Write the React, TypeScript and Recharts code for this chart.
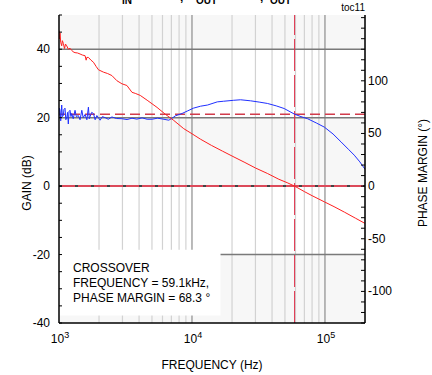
import {
	ComposedChart,
	Line,
	ReferenceArea,
	ReferenceLine,
	XAxis,
	YAxis,
} from "recharts";

// ゲイン（赤）: 周波数 Hz / dB
const gainFreq = [
	1000, 1010, 1017, 1030, 1048, 1060, 1078, 1100, 1120, 1143, 1175, 1210, 1247,
	1280, 1320, 1380, 1440, 1500, 1571, 1600, 1619, 1664, 1740, 1815, 1900, 1980,
	2160, 2320, 2500, 2725, 2972, 3240, 3540, 3745, 4085, 4600, 5460, 6300, 7290,
	8660, 10000, 11600, 14000, 17000, 20700, 25000, 30000, 36900, 45000, 52000,
	59100, 70000, 80000, 99000, 117000, 140000, 170000, 200000,
];
const gainDb = [
	45.5, 43, 44.8, 42, 41, 42.5, 41.7, 40.2, 41.5, 41, 40, 40.3, 39.7, 39.2, 39,
	38.9, 38.6, 38.3, 38.1, 36.8, 37.6, 37.6, 36.8, 36.2, 35, 34, 33.3, 32.9, 32.3,
	30.8, 29.9, 29.4, 27.4, 27.1, 26.5, 25.1, 23, 21, 19.2, 16.8, 15.3, 13.7, 11.9,
	10.2, 8.5, 6.9, 5.3, 3.7, 2, 1, 0, -1.6, -2.8, -4.6, -6, -7.6, -9.4, -10.9,
];

// 位相余裕（青）: 周波数 Hz / deg
const phaseFreq = [
	1000, 1008, 1017, 1030, 1048, 1060, 1078, 1090, 1110, 1125, 1143, 1160, 1175,
	1190, 1210, 1230, 1247, 1280, 1320, 1350, 1398, 1440, 1484, 1520, 1571, 1620,
	1664, 1690, 1714, 1760, 1815, 1870, 1926, 1980, 2038, 2120, 2224, 2350, 2500,
	2700, 2972, 3250, 3540, 3850, 4215, 4600, 5010, 5500, 5960, 6690, 7100, 7490,
	8430, 9300, 10240, 11600, 13100, 15500, 17300, 20600, 23200, 27600, 32000,
	36900, 43000, 49300, 59100, 66000, 74000, 86000, 99000, 115000, 132000,
	150000, 166000, 183000, 200000,
];
const phaseDeg = [
	66, 74, 72, 62, 77, 66, 67, 73, 74, 63, 64.5, 70, 59, 71, 72, 66, 69, 64, 72,
	66, 67, 63, 72, 65, 68, 63, 75, 64, 66, 70, 69, 63, 67, 65, 62.6, 66, 65, 63.5,
	65.7, 64.2, 64, 63.2, 64.5, 63.6, 64.8, 63.5, 63.5, 64.5, 63.8, 62.6, 64.5,
	66.7, 69, 71.5, 74, 75.9, 77, 80, 80.6, 81.5, 82, 81, 79.8, 78.5, 76.2, 73.7,
	68.3, 66, 64, 60, 56, 49.5, 42, 35, 29.4, 23, 16,
];

const xTicks = [1000, 10000, 100000];
const minorFreq = [2, 3, 4, 5, 6, 7, 8, 9].flatMap((m) => [
	m * 1000,
	m * 10000,
	...(m < 3 ? [m * 100000] : []),
]);
const gainTicks = [
	-40, -35, -30, -25, -20, -15, -10, -5, 0, 5, 10, 15, 20, 25, 30, 35, 40, 45,
	50,
];
const gainLabels = [-40, -20, 0, 20, 40];
const phaseTicks = [
	-130, -120, -110, -100, -90, -80, -70, -60, -50, -40, -30, -20, -10, 0, 10,
	20, 30, 40, 50, 60, 70, 80, 90, 100, 110, 120, 130, 140, 150, 160,
];
const phaseLabels = [-100, -50, 0, 50, 100];
const bands: [number, number][] = [
	[40, 50],
	[0, 20],
	[-40, -20],
];
const gridLevels = [40, 20];
const crossoverHz = 59100;
const phaseMargin = 68.3;
const noteLines = [
	"CROSSOVER",
	"FREQUENCY = 59.1kHz,",
	"PHASE MARGIN = 68.3 °",
];

const gainData = gainFreq.map((f, i) => ({ f, v: gainDb[i] }));
const phaseData = phaseFreq.map((f, i) => ({ f, v: phaseDeg[i] }));

const FONT = "'Liberation Sans', Arial, sans-serif";

function LeftTick({ x, y, payload }: any) {
	const v = payload.value;
	return (
		<g>
			<line x1={x} x2={x + 3} y1={y} y2={y} stroke="#000" />
			{gainLabels.includes(v) && (
				<text
					x={x - 9}
					y={y + 4}
					textAnchor="end"
					fontSize={12}
					fontFamily={FONT}
					fill="#000"
				>
					{v}
				</text>
			)}
		</g>
	);
}

function RightTick({ x, y, payload }: any) {
	const v = payload.value;
	return (
		<g>
			<line x1={x - 4} x2={x} y1={y} y2={y} stroke="#000" />
			{phaseLabels.includes(v) && (
				<text
					x={x + 3}
					y={y + 4}
					textAnchor="start"
					fontSize={12}
					fontFamily={FONT}
					fill="#000"
				>
					{v}
				</text>
			)}
		</g>
	);
}

function FreqTick({ x, y, payload }: any) {
	const exp = Math.round(Math.log10(payload.value));
	return (
		<text
			x={x + 1}
			y={y + 20}
			textAnchor="middle"
			fontSize={12}
			fontFamily={FONT}
			fill="#000"
		>
			10
			<tspan dy={-5} fontSize={9}>
				{exp}
			</tspan>
		</text>
	);
}

function RotLabel({ cx, cy, text }: { cx: number; cy: number; text: string }) {
	return (
		<text
			x={cx}
			y={cy}
			transform={`rotate(-90 ${cx} ${cy})`}
			textAnchor="middle"
			dominantBaseline="central"
			fontSize={12}
			fontFamily={FONT}
			fill="#000"
		>
			{text}
		</text>
	);
}

export default function App() {
	return (
		<div
			style={{
				position: "absolute",
				left: 0,
				top: 0,
				width: 432,
				height: 375,
				background: "#fff",
			}}
		>
			<ComposedChart
				width={432}
				height={375}
				margin={{ top: 15, right: 0, bottom: 0, left: 0 }}
			>
				<XAxis
					dataKey="f"
					type="number"
					scale="log"
					domain={[1000, 200000]}
					allowDataOverflow
					ticks={xTicks}
					interval={0}
					height={52}
					tickSize={0}
					tickMargin={0}
					tickLine={false}
					tick={<FreqTick />}
					axisLine={{ stroke: "#000", strokeWidth: 1.5 }}
					label={{
						value: "FREQUENCY (Hz)",
						position: "insideBottom",
						offset: 6,
						fontSize: 12,
						fontFamily: FONT,
						fill: "#000",
					}}
				/>
				<XAxis
					xAxisId="top"
					orientation="top"
					type="number"
					scale="log"
					domain={[1000, 200000]}
					height={0}
					tick={false}
					tickLine={false}
					axisLine={{ stroke: "#000", strokeWidth: 1.5 }}
				/>
				<YAxis
					yAxisId="gain"
					domain={[-40, 50]}
					ticks={gainTicks}
					interval={0}
					width={59}
					tickSize={0}
					tickMargin={0}
					tickLine={false}
					tick={<LeftTick />}
					axisLine={{ stroke: "#000", strokeWidth: 1.5 }}
					allowDataOverflow
					label={({ viewBox }: any) => (
						<RotLabel
							cx={viewBox.x + 27}
							cy={viewBox.y + viewBox.height / 2 + 14}
							text="GAIN (dB)"
						/>
					)}
				/>
				<YAxis
					yAxisId="phase"
					orientation="right"
					domain={[-130, 162.5]}
					ticks={phaseTicks}
					interval={0}
					width={67}
					tickSize={0}
					tickMargin={0}
					tickLine={false}
					tick={<RightTick />}
					axisLine={{ stroke: "#000", strokeWidth: 1.5 }}
					allowDataOverflow
					label={({ viewBox }: any) => (
						<RotLabel
							cx={viewBox.x + 58}
							cy={viewBox.y + viewBox.height / 2 + 4}
							text="PHASE MARGIN (°)"
						/>
					)}
				/>

				{/* 背景の帯 */}
				{bands.map(([a, b]) => (
					<ReferenceArea
						key={`band${a}`}
						yAxisId="gain"
						x1={1000}
						x2={200000}
						y1={a}
						y2={b}
						fill="#f7f7f7"
						fillOpacity={1}
						stroke="none"
						zIndex={-60}
					/>
				))}

				{/* 対数グリッド */}
				{minorFreq.map((f) => (
					<ReferenceLine
						key={`m${f}`}
						yAxisId="gain"
						x={f}
						stroke="#d2d2d2"
						strokeWidth={1.2}
						zIndex={-50}
					/>
				))}
				{xTicks.slice(1).map((f) => (
					<ReferenceLine
						key={`d${f}`}
						yAxisId="gain"
						x={f}
						stroke="#8c8c8c"
						strokeWidth={1.2}
						zIndex={-50}
					/>
				))}

				{/* 注記ボックス */}
				<ReferenceArea
					yAxisId="gain"
					x1={1000}
					x2={16400}
					y1={-37.8}
					y2={-18.6}
					fill="#fff"
					fillOpacity={1}
					stroke="none"
					zIndex={-40}
					label={({ viewBox }: any) => (
						<text fontSize={12} fontFamily={FONT} fill="#000">
							{noteLines.map((t, i) => (
								<tspan key={t} x={viewBox.x + 14} y={viewBox.y + 22 + i * 15}>
									{t}
								</tspan>
							))}
						</text>
					)}
				/>

				{gridLevels.map((g) => (
					<ReferenceLine
						key={`h${g}`}
						yAxisId="gain"
						y={g}
						stroke="#7a7a7a"
						strokeWidth={1.5}
						zIndex={-30}
					/>
				))}
				<ReferenceLine
					yAxisId="gain"
					segment={[
						{ x: 16400, y: -20 },
						{ x: 200000, y: -20 },
					]}
					stroke="#7a7a7a"
					strokeWidth={1.5}
					zIndex={-30}
				/>

				{/* 0dB ライン */}
				<ReferenceLine
					yAxisId="gain"
					y={0}
					stroke="#dc4a5a"
					strokeWidth={2}
					zIndex={-20}
				/>
				<ReferenceLine
					yAxisId="gain"
					y={0}
					stroke="#444"
					strokeWidth={2}
					strokeDasharray="3 13"
					zIndex={-20}
				/>

				{/* 位相余裕・クロスオーバー */}
				<ReferenceLine
					yAxisId="phase"
					y={phaseMargin}
					stroke="#d23c4c"
					strokeWidth={1.5}
					strokeDasharray="10 5"
					zIndex={-10}
				/>
				<ReferenceLine
					yAxisId="gain"
					x={crossoverHz}
					stroke="#e0304a"
					strokeWidth={1}
					strokeDasharray="32 4"
					zIndex={-10}
				/>

				<Line
					yAxisId="phase"
					data={phaseData}
					dataKey="v"
					type="linear"
					stroke="#2030ff"
					strokeWidth={1}
					dot={false}
					activeDot={false}
					isAnimationActive={false}
				/>
				<Line
					yAxisId="gain"
					data={gainData}
					dataKey="v"
					type="linear"
					stroke="#ff2020"
					strokeWidth={1}
					dot={false}
					activeDot={false}
					isAnimationActive={false}
				/>

				<text
					x={365}
					y={11}
					textAnchor="end"
					fontSize={10}
					fontFamily={FONT}
					fill="#000"
				>
					toc11
				</text>
				<g fontFamily={FONT} fontWeight="bold" fill="#000">
					<text x={122} y={4} fontSize={10}>
						IN
					</text>
					<text x={180} y={1} fontSize={12}>
						,
					</text>
					<text x={196} y={4} fontSize={10}>
						OUT
					</text>
					<text x={260} y={1} fontSize={12}>
						,
					</text>
					<text x={270} y={4} fontSize={10}>
						OUT
					</text>
				</g>
			</ComposedChart>
		</div>
	);
}
